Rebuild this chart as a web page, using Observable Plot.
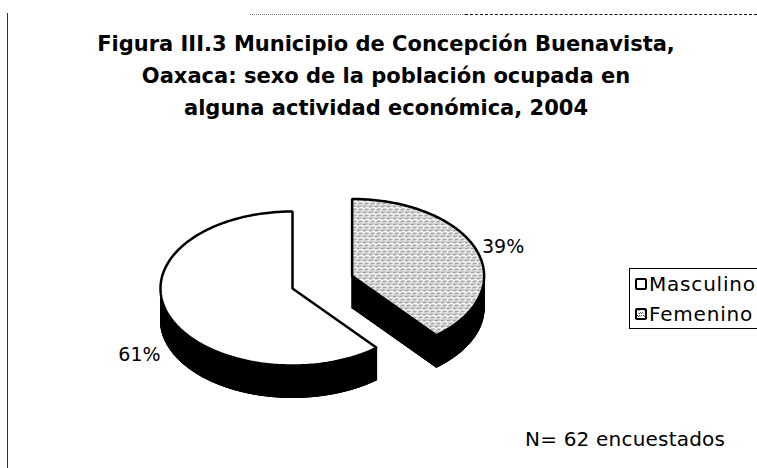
<!DOCTYPE html>
<html><head><meta charset="utf-8">
<script src="https://cdn.jsdelivr.net/npm/d3@7"></script>
<script src="https://cdn.jsdelivr.net/npm/@observablehq/plot@0.6"></script>
<style>
html,body{margin:0;padding:0;background:#fff;}
#page{position:relative;width:757px;height:468px;overflow:hidden;background:#fff;font-family:"DejaVu Sans",sans-serif;color:#000;}
#chart{position:absolute;left:0;top:0;}
.frame-left{position:absolute;left:7px;top:13px;width:0;height:455px;border-left:1px solid #333;}
.frame-top1{position:absolute;left:250px;top:14px;width:215px;height:0;border-top:1px dotted #777;}
.frame-top2{position:absolute;left:465px;top:14px;width:292px;height:0;border-top:1.5px dashed #111;}
.title{position:absolute;left:0;top:28px;width:772px;text-align:center;font-weight:bold;font-size:21px;line-height:32px;}
.title div{white-space:nowrap;}
#legend{position:absolute;left:629px;top:268px;width:140px;height:61px;border:1px solid #000;border-right:none;box-sizing:border-box;}
.item{position:absolute;left:5px;height:30px;line-height:30px;font-size:20px;letter-spacing:0.8px;white-space:nowrap;}
.item svg{position:absolute;left:0;top:9px;}
.item span{position:absolute;left:14px;top:0;}
.caption{position:absolute;left:525px;top:428px;font-size:20px;letter-spacing:0.2px;line-height:22px;white-space:nowrap;}
</style></head><body>
<svg width="0" height="0" style="position:absolute">
  <defs>
    <pattern id="stip" patternUnits="userSpaceOnUse" width="6" height="6">
      <rect width="6" height="6" fill="#fff"/>
      <path d="M0,6L2,4M3,3L5,1M4,6L6,4M0,2L1,1M2,6.5L3,5.5M5,2.5L6,1.5" stroke="#333" stroke-width="0.85" fill="none"/>
      <rect x="2" y="1" width="1" height="1" fill="#444"/>
    </pattern>
  </defs>
</svg>
<div id="page">
  <div id="chart"></div>
  <div class="frame-left"></div>
  <div class="frame-top1"></div>
  <div class="frame-top2"></div>
  <div class="title">
    <div>Figura III.3 Municipio de Concepción Buenavista,</div>
    <div>Oaxaca: sexo de la población ocupada en</div>
    <div>alguna actividad económica, 2004</div>
  </div>
  <div id="legend"></div>
  <div class="caption" id="caption"></div>
</div>
<script>
// ---- data ----
const categories = ["Masculino", "Femenino"];
const values = [61, 39];
const valueLabels = ["61%", "39%"];
const captionText = "N= 62 encuestados";

// ---- layout / style ----
const W = 757, H = 468;
const cx = 292, cy = 288, rx = 132, ry = 77, depth = 32;
const explode = {Masculino: 0, Femenino: 0.48};
const sliceFill = {Masculino: "white", Femenino: "url(#stip)"};
const rad = d => d * Math.PI / 180;

const total = d3.sum(values);
let cum = 0;
const slices = categories.map((c, i) => {
  const a1 = -cum / total * 360;
  cum += values[i];
  const a0 = -cum / total * 360;
  return {cat: c, label: valueLabels[i], a0, a1};
});

const t = depth / ry;
const topRows = [], sideRows = [], labelRows = [];
slices.forEach(s => {
  const m = rad((s.a0 + s.a1) / 2);
  const e = explode[s.cat];
  const ox = e * Math.sin(m), oy = -e * Math.cos(m);
  const pts = [[ox, oy]];
  const steps = Math.ceil(s.a1 - s.a0);
  for (let k = 0; k <= steps; k++) {
    const th = rad(s.a0 + (s.a1 - s.a0) * k / steps);
    pts.push([ox + Math.sin(th), oy - Math.cos(th)]);
  }
  pts.push([ox, oy]);
  pts.forEach(p => topRows.push({cat: s.cat, x: p[0], y: p[1]}));
  for (let i = 0; i < pts.length - 1; i++) {
    const p = pts[i], q = pts[i + 1], id = s.cat + "-" + i;
    sideRows.push({id, x: p[0], y: p[1]}, {id, x: q[0], y: q[1]},
                  {id, x: q[0], y: q[1] + t}, {id, x: p[0], y: p[1] + t});
  }
  pts.forEach(p => sideRows.push({id: s.cat + "-bottom", x: p[0], y: p[1] + t}));
  const k = 1.03;
  labelRows.push({
    label: s.label,
    x: ox + k * Math.sin(m),
    y: oy - k * Math.cos(m) + (Math.cos(m) < 0 ? t : 0),
    anchor: Math.sin(m) >= 0 ? "start" : "end",
    line: Math.cos(m) >= 0 ? "bottom" : "top"
  });
});

const marks = [
  Plot.line(sideRows, {x: "x", y: "y", z: "id", fill: "black", stroke: "black", strokeWidth: 1})
];
categories.forEach(c => {
  marks.push(Plot.line(topRows.filter(d => d.cat === c),
    {x: "x", y: "y", fill: sliceFill[c], stroke: "black", strokeWidth: 2.5, strokeLinejoin: "miter"}));
});
labelRows.forEach(r => {
  marks.push(Plot.text([r], {x: "x", y: "y", text: "label", textAnchor: r.anchor, lineAnchor: r.line,
    dx: r.anchor === "start" ? 2 : -4, dy: r.line === "bottom" ? 4 : 0,
    fontFamily: "DejaVu Sans", fontSize: 19, fill: "black"}));
});

const plot = Plot.plot({
  width: W, height: H, margin: 0,
  x: {domain: [-cx / rx, (W - cx) / rx], range: [0, W], axis: null},
  y: {domain: [-cy / ry, (H - cy) / ry], range: [0, H], axis: null},
  style: {background: "transparent"},
  marks
});
document.getElementById("chart").appendChild(plot);

// legend
const legend = document.getElementById("legend");
categories.forEach((c, i) => {
  const item = document.createElement("div");
  item.className = "item";
  item.style.top = (i * 30) + "px";
  item.innerHTML = `<svg width="12" height="12"><rect x="1" y="1" width="10" height="10" rx="1" fill="${sliceFill[c]}" stroke="#000" stroke-width="2"/></svg><span>${c}</span>`;
  legend.appendChild(item);
});
document.getElementById("caption").textContent = captionText;
</script>
</body></html>
